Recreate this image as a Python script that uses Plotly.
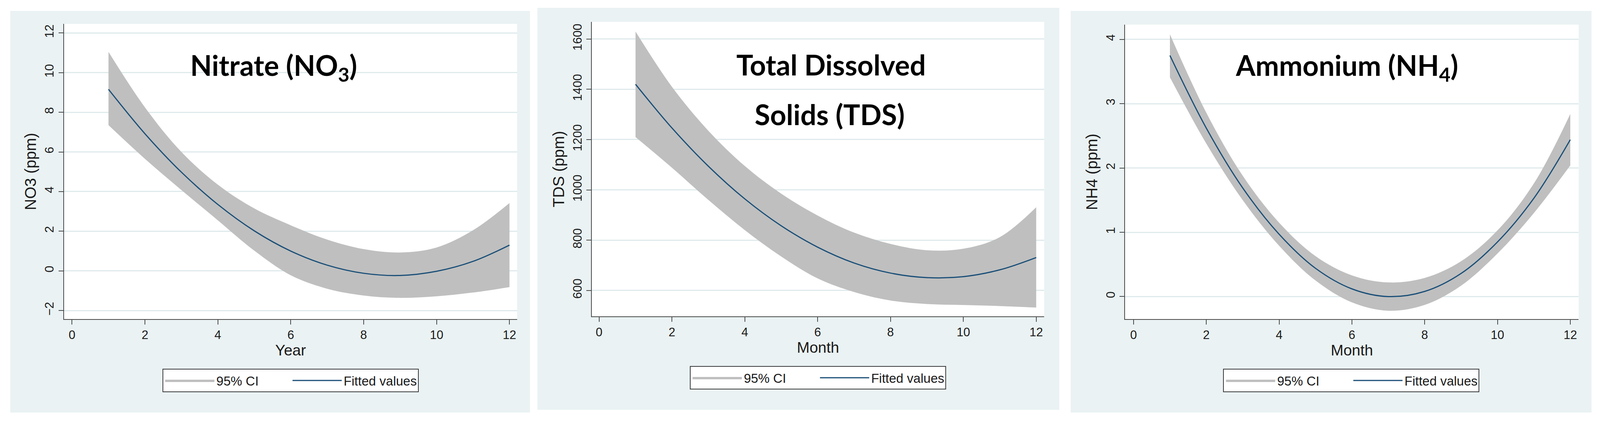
import plotly.graph_objects as go

# ---------------- data ----------------
x_vals = [1, 2, 3, 4, 5, 6, 7, 8, 9, 10, 11, 12]

nitrate_fit = [9.16, 6.92, 4.98, 3.35, 2.02, 1.00, 0.29, -0.12, -0.23, -0.02, 0.48, 1.30]
nitrate_upper = [11.05, 8.25, 6.00, 4.35, 3.15, 2.30, 1.58, 1.10, 0.93, 1.18, 2.05, 3.42]
nitrate_lower = [7.35, 5.65, 4.08, 2.55, 1.02, -0.22, -0.90, -1.24, -1.36, -1.28, -1.09, -0.82]

tds_fit = [1420, 1246, 1094, 964, 857, 772, 709, 669, 651, 655, 682, 731]
tds_upper = [1630, 1410, 1235, 1095, 985, 898, 830, 785, 760, 766, 812, 931]
tds_lower = [1210, 1088, 960, 840, 735, 648, 594, 560, 546, 542, 538, 532]

nh4_fit = [3.75, 2.62, 1.69, 0.97, 0.44, 0.12, 0.00, 0.08, 0.36, 0.85, 1.53, 2.44]
nh4_upper = [4.08, 2.86, 1.88, 1.15, 0.63, 0.33, 0.22, 0.29, 0.55, 1.03, 1.76, 2.84]
nh4_lower = [3.41, 2.38, 1.50, 0.79, 0.25, -0.09, -0.22, -0.13, 0.17, 0.67, 1.30, 2.04]

x_ticks = [0, 2, 4, 6, 8, 10, 12]
nitrate_yticks = [-2, 0, 2, 4, 6, 8, 10, 12]
tds_yticks = [600, 800, 1000, 1200, 1400, 1600]
nh4_yticks = [0, 1, 2, 3, 4]

ci_label = "95% CI"
fit_label = "Fitted values"

# ---------------- styling / layout ----------------
# the photographed page is 4096 css px wide; positions are taken from the
# 4350 px reference and compressed horizontally, page body margin is 8 px
KX = 4096 / 4350
FW, FH = 4080, 1076
BODY = 8

PANEL_BG = "#EAF2F3"
GRID = "#DFEAEC"
AXIS = "#4A4A4A"
BAND = "#BFBFBF"
LINE = "#1A4F78"
TEXT = "#1a1a1a"
FONT = "Liberation Sans"
TITLE_FONT = "Lato"


def fx(X):
    return (X * KX - BODY) / FW


def fy(Y):
    return 1 - (Y - BODY) / FH


panels = [
    dict(fit=nitrate_fit, up=nitrate_upper, lo=nitrate_lower,
         xtitle="Year", ytitle="NO3 (ppm)", yticks=nitrate_yticks,
         xr=[-0.22, 12.21], yr=[-2.43, 12.46],
         bg=(28, 28, 1441, 1055), plot=(174, 61, 1406, 816),
         legend_c=(790, 973)),
    dict(fit=tds_fit, up=tds_upper, lo=tds_lower,
         xtitle="Month", ytitle="TDS (ppm)", yticks=tds_yticks,
         xr=[-0.2, 12.22], yr=[497, 1668],
         bg=(1461, 20, 2880, 1048), plot=(1609, 56, 2839, 809),
         legend_c=(2224, 966)),
    dict(fit=nh4_fit, up=nh4_upper, lo=nh4_lower,
         xtitle="Month", ytitle="NH4 (ppm)", yticks=nh4_yticks,
         xr=[-0.23, 12.23], yr=[-0.35, 4.23],
         bg=(2911, 28, 4327, 1055), plot=(3059, 63, 4292, 816),
         legend_c=(3674, 973)),
]

fig = go.Figure()
shapes = []
layout_extra = {}

for i, p in enumerate(panels):
    n = "" if i == 0 else str(i + 1)
    xa, ya = "x" + n, "y" + n
    leg = "legend" + n

    fig.add_trace(go.Scatter(
        x=x_vals, y=p["lo"], xaxis=xa, yaxis=ya, mode="lines",
        line=dict(width=0, color=BAND, shape="spline"),
        showlegend=False, hoverinfo="skip", legend=leg))
    fig.add_trace(go.Scatter(
        x=x_vals, y=p["up"], xaxis=xa, yaxis=ya, mode="lines",
        line=dict(width=0, color=BAND, shape="spline"),
        fill="tonexty", fillcolor=BAND, name=ci_label, legend=leg))
    fig.add_trace(go.Scatter(
        x=x_vals, y=p["fit"], xaxis=xa, yaxis=ya, mode="lines",
        line=dict(width=3, color=LINE, shape="spline"),
        name=fit_label, legend=leg))

    bx0, by0, bx1, by1 = p["bg"]
    shapes.append(dict(type="rect", xref="paper", yref="paper",
                       x0=fx(bx0), x1=fx(bx1), y0=fy(by1), y1=fy(by0),
                       fillcolor=PANEL_BG, line=dict(width=0), layer="below"))
    qx0, qy0, qx1, qy1 = p["plot"]
    shapes.append(dict(type="rect", xref="paper", yref="paper",
                       x0=fx(qx0), x1=fx(qx1), y0=fy(qy1), y1=fy(qy0),
                       fillcolor="white", line=dict(width=0), layer="below"))

    layout_extra["xaxis" + n] = dict(
        domain=[fx(qx0), fx(qx1)], anchor=ya, range=p["xr"],
        tickmode="array", tickvals=x_ticks, ticks="outside", ticklen=12,
        tickwidth=2, tickcolor=AXIS, showline=True, linecolor=AXIS, linewidth=2,
        showgrid=False, zeroline=False,
        tickfont=dict(family=FONT, size=31, color=TEXT),
        title=dict(text=p["xtitle"], standoff=8,
                   font=dict(family=FONT, size=39, color=TEXT)))
    layout_extra["yaxis" + n] = dict(
        domain=[fy(qy1), fy(qy0)], anchor=xa, range=p["yr"],
        tickmode="array", tickvals=p["yticks"], ticks="outside", ticklen=12,
        tickwidth=2, tickcolor=AXIS, showline=True, linecolor=AXIS, linewidth=2,
        showgrid=True, gridcolor=GRID, gridwidth=3, zeroline=False,
        tickangle=-90,
        tickfont=dict(family=FONT, size=31, color=TEXT),
        title=dict(text=p["ytitle"], standoff=4,
                   font=dict(family=FONT, size=40, color=TEXT)))
    lcx, lcy = p["legend_c"]
    layout_extra[leg] = dict(
        orientation="h", x=fx(lcx), y=fy(lcy), xanchor="center", yanchor="middle",
        bgcolor="white", bordercolor="#3a3a3a", borderwidth=2,
        font=dict(family=FONT, size=33, color=TEXT),
        itemwidth=126, entrywidth=185, traceorder="normal")

title_font = dict(family=TITLE_FONT, size=72, color="black", weight="bold")
annotations = [
    dict(text="Nitrate (NO<sub>3</sub>)", x=fx(744), y=fy(172)),
    dict(text="Total Dissolved", x=fx(2259), y=fy(165)),
    dict(text="Solids (TDS)", x=fx(2256), y=fy(292)),
    dict(text="Ammonium (NH<sub>4</sub>)", x=fx(3662), y=fy(172)),
]
for a in annotations:
    a.update(xref="paper", yref="paper", xanchor="center", yanchor="middle",
             showarrow=False, font=title_font)

fig.update_layout(
    width=FW, height=FH, margin=dict(l=0, r=0, t=0, b=0),
    paper_bgcolor="white", plot_bgcolor="rgba(0,0,0,0)",
    shapes=shapes, annotations=annotations, **layout_extra)

fig.write_html("out.html")
